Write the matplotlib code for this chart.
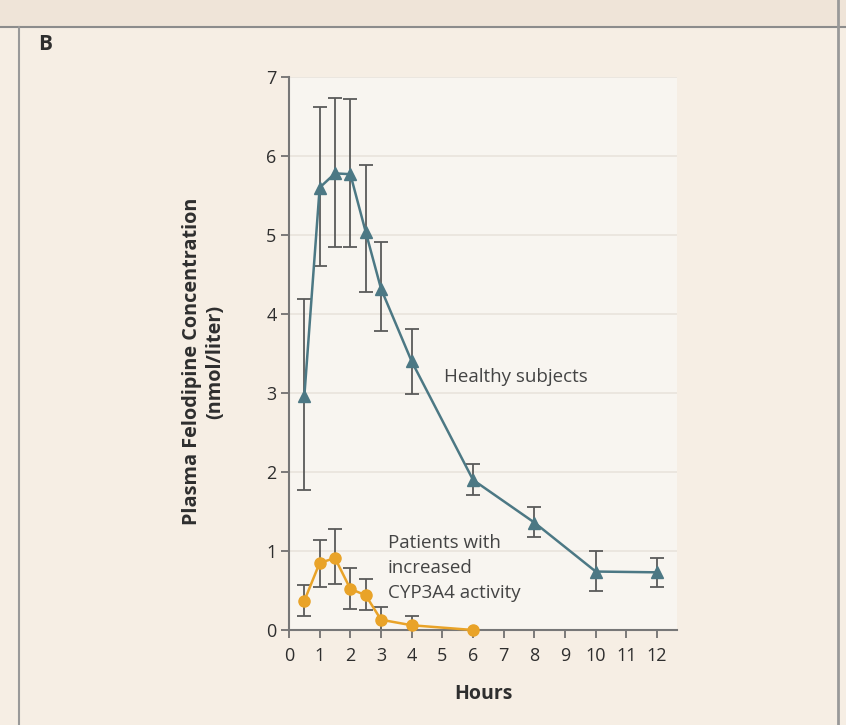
import matplotlib
matplotlib.use("Agg")
import matplotlib.pyplot as plt
from matplotlib.patches import Rectangle
from matplotlib.lines import Line2D

plt.rcParams["font.family"] = ["Open Sans", "DejaVu Sans"]

# healthy subjects
healthy_hours = [0.5, 1, 1.5, 2, 2.5, 3, 4, 6, 8, 10, 12]
healthy_conc = [2.96, 5.6, 5.78, 5.77, 5.04, 4.32, 3.4, 1.9, 1.36, 0.74, 0.73]
healthy_hi = [4.19, 6.62, 6.74, 6.72, 5.88, 4.91, 3.81, 2.1, 1.56, 1.0, 0.91]
healthy_lo = [1.77, 4.61, 4.85, 4.85, 4.28, 3.78, 2.99, 1.71, 1.18, 0.49, 0.54]

# patients with increased CYP3A4 activity
cyp_hours = [0.5, 1, 1.5, 2, 2.5, 3, 4, 6]
cyp_conc = [0.37, 0.85, 0.91, 0.52, 0.44, 0.13, 0.06, 0.0]
cyp_hi = [0.57, 1.14, 1.28, 0.78, 0.65, 0.29, 0.18, 0.0]
cyp_lo = [0.18, 0.54, 0.58, 0.27, 0.25, 0.0, 0.0, 0.0]

x_ticks = list(range(0, 13))
y_ticks = list(range(0, 8))

TEAL = "#4c7884"
ORANGE = "#e9a328"
ERR = "#5a5a5a"
TXT = "#2e2e2e"

fig = plt.figure(figsize=(8.46, 7.25), dpi=100, facecolor="#f6eee4")

# panel frame: top band and side borders
fig.patches.append(Rectangle((0, 1 - 27 / 725), 1, 27 / 725, transform=fig.transFigure,
                             facecolor="#efe4d8", edgecolor="none", zorder=0))
fig.lines.append(Line2D([0, 1], [1 - 27 / 725] * 2, transform=fig.transFigure,
                        color="#8c8c8c", lw=1.5))
fig.lines.append(Line2D([19 / 846] * 2, [0, 1 - 27 / 725], transform=fig.transFigure,
                        color="#999999", lw=1.5))
fig.lines.append(Line2D([838 / 846] * 2, [0, 1], transform=fig.transFigure,
                        color="#999999", lw=2))

ax = fig.add_axes([289 / 846, 95 / 725, 388 / 846, 553 / 725])
ax.set_facecolor("#f8f5f0")

for yv in y_ticks[1:]:
    ax.axhline(yv, color="#e9e4dc", lw=1.2, zorder=0)

def draw(hours, conc, lo, hi, color, marker, ms):
    yerr = [[c - l for c, l in zip(conc, lo)], [h - c for c, h in zip(conc, hi)]]
    ax.errorbar(hours, conc, yerr=yerr, fmt="none", ecolor=ERR, elinewidth=1.3,
                capsize=5, capthick=1.3, zorder=2)
    ax.plot(hours, conc, color=color, lw=1.8, marker=marker, ms=ms,
            markeredgecolor=color, zorder=3, clip_on=False)

draw(healthy_hours, healthy_conc, healthy_lo, healthy_hi, TEAL, "^", 9)
draw(cyp_hours, cyp_conc, cyp_lo, cyp_hi, ORANGE, "o", 8)

ax.set_xlim(0, 12.65)
ax.set_ylim(0, 7)
ax.set_xticks(x_ticks)
ax.set_yticks(y_ticks)
ax.tick_params(direction="out", length=6, width=1.2, color="#666666",
               labelsize=13, labelcolor=TXT)
ax.tick_params(axis="x", pad=6)
ax.tick_params(axis="y", pad=3)
for s in ["top", "right"]:
    ax.spines[s].set_visible(False)
for s in ["left", "bottom"]:
    ax.spines[s].set_color("#777777")
    ax.spines[s].set_linewidth(1.5)

ax.set_xlabel("Hours", fontsize=14, fontweight="bold", color=TXT, labelpad=14)
ax.set_ylabel("Plasma Felodipine Concentration\n(nmol/liter)", fontsize=14.3,
              fontweight="bold", color=TXT, linespacing=1.25)
ax.yaxis.set_label_coords(-0.164, 0.485)

ax.text(5.05, 3.2, "Healthy subjects", fontsize=13.5, color="#444444",
        ha="left", va="center")
ax.text(3.22, 1.21, "Patients with\nincreased\nCYP3A4 activity", fontsize=13.5,
        color="#444444", ha="left", va="top", linespacing=1.5)

fig.text(38 / 846, 1 - 45 / 725, "B", fontsize=15, fontweight="bold", color=TXT,
         ha="left", va="center")

fig.savefig("out.png", dpi=100, facecolor=fig.get_facecolor())
